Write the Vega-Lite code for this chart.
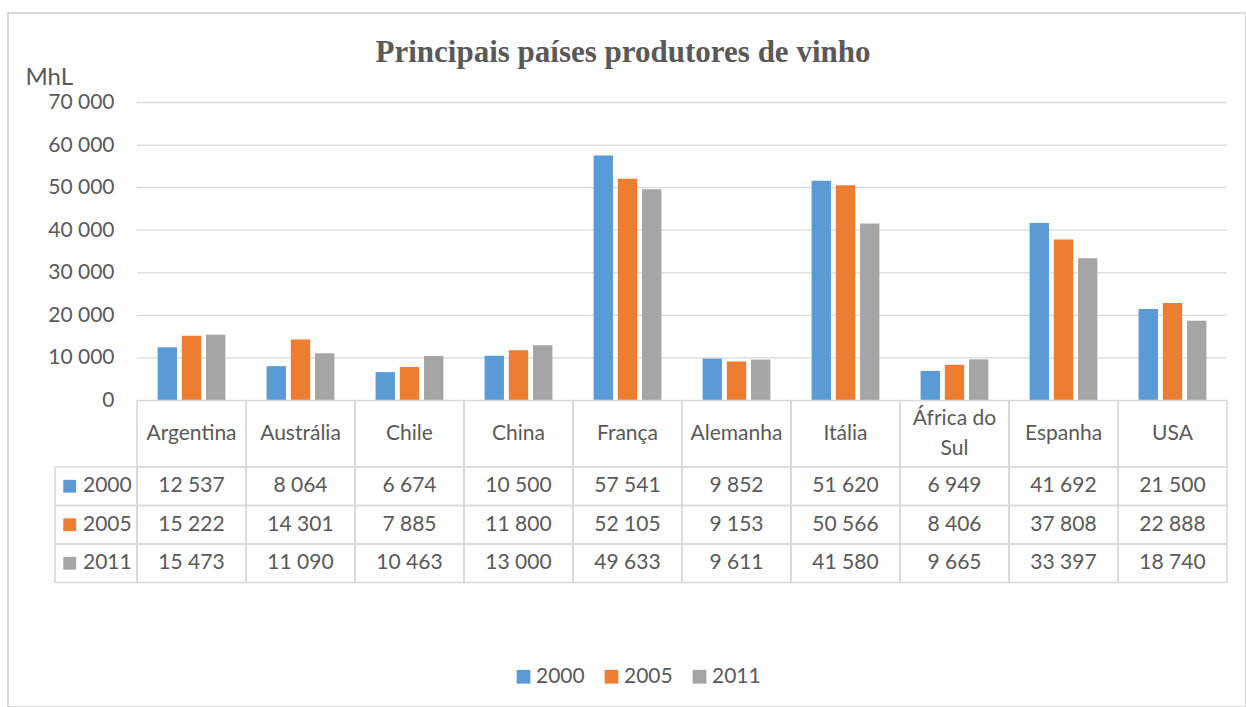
{
  "$schema": "https://vega.github.io/schema/vega-lite/v6.json",
  "autosize": {"type": "none"},
  "width": 1238,
  "height": 694,
  "padding": {"left": 8, "top": 13, "right": 0, "bottom": 0},
  "background": "white",
  "title": {
    "text": "Principais países produtores de vinho",
    "font": "Liberation Serif",
    "fontSize": 31,
    "fontWeight": "bold",
    "color": "#595959",
    "anchor": "middle",
    "baseline": "alphabetic",
    "offset": 0,
    "dx": -4,
    "dy": 80
  },
  "config": {
    "view": {"stroke": "#d9d9d9", "strokeWidth": 2},
    "locale": {"number": {"decimal": ",", "thousands": " ", "grouping": [3], "currency": ["", ""]}},
    "text": {"font": "Lato", "fontSize": 21, "color": "#595959"}
  },
  "datasets": {
    "wine": [
      {"country": "Argentina", "year": "2000", "value": 12537},
      {"country": "Argentina", "year": "2005", "value": 15222},
      {"country": "Argentina", "year": "2011", "value": 15473},
      {"country": "Austrália", "year": "2000", "value": 8064},
      {"country": "Austrália", "year": "2005", "value": 14301},
      {"country": "Austrália", "year": "2011", "value": 11090},
      {"country": "Chile", "year": "2000", "value": 6674},
      {"country": "Chile", "year": "2005", "value": 7885},
      {"country": "Chile", "year": "2011", "value": 10463},
      {"country": "China", "year": "2000", "value": 10500},
      {"country": "China", "year": "2005", "value": 11800},
      {"country": "China", "year": "2011", "value": 13000},
      {"country": "França", "year": "2000", "value": 57541},
      {"country": "França", "year": "2005", "value": 52105},
      {"country": "França", "year": "2011", "value": 49633},
      {"country": "Alemanha", "year": "2000", "value": 9852},
      {"country": "Alemanha", "year": "2005", "value": 9153},
      {"country": "Alemanha", "year": "2011", "value": 9611},
      {"country": "Itália", "year": "2000", "value": 51620},
      {"country": "Itália", "year": "2005", "value": 50566},
      {"country": "Itália", "year": "2011", "value": 41580},
      {"country": "África do Sul", "year": "2000", "value": 6949},
      {"country": "África do Sul", "year": "2005", "value": 8406},
      {"country": "África do Sul", "year": "2011", "value": 9665},
      {"country": "Espanha", "year": "2000", "value": 41692},
      {"country": "Espanha", "year": "2005", "value": 37808},
      {"country": "Espanha", "year": "2011", "value": 33397},
      {"country": "USA", "year": "2000", "value": 21500},
      {"country": "USA", "year": "2005", "value": 22888},
      {"country": "USA", "year": "2011", "value": 18740}
    ],
    "countries": [
      {"country": "Argentina", "label": "Argentina"},
      {"country": "Austrália", "label": "Austrália"},
      {"country": "Chile", "label": "Chile"},
      {"country": "China", "label": "China"},
      {"country": "França", "label": "França"},
      {"country": "Alemanha", "label": "Alemanha"},
      {"country": "Itália", "label": "Itália"},
      {"country": "África do Sul", "label": "África do\nSul"},
      {"country": "Espanha", "label": "Espanha"},
      {"country": "USA", "label": "USA"}
    ],
    "years": [
      {"year": "2000", "col": "h"},
      {"year": "2005", "col": "h"},
      {"year": "2011", "col": "h"}
    ],
    "ticks": [
      {"v": 10000}, {"v": 20000}, {"v": 30000}, {"v": 40000},
      {"v": 50000}, {"v": 60000}, {"v": 70000}
    ]
  },
  "resolve": {"scale": {"x": "independent", "y": "independent"}},
  "layer": [
    {
      "data": {"name": "ticks"},
      "mark": {"type": "rule", "color": "#d9d9d9", "strokeWidth": 1.3},
      "encoding": {
        "y": {"field": "v", "type": "quantitative", "scale": {"domain": [0, 70000], "range": [387.5, 89.5], "nice": false, "zero": false}, "axis": null},
        "x": {"datum": "Argentina", "type": "nominal", "bandPosition": 0,
              "scale": {"domain": ["Argentina", "Austrália", "Chile", "China", "França", "Alemanha", "Itália", "África do Sul", "Espanha", "USA"], "range": [129, 1219], "paddingInner": 0, "paddingOuter": 0}, "axis": null},
        "x2": {"datum": "USA", "bandPosition": 1}
      }
    },
    {
      "data": {"name": "wine"},
      "mark": {"type": "bar"},
      "encoding": {
        "x": {"field": "country", "type": "nominal",
              "scale": {"domain": ["Argentina", "Austrália", "Chile", "China", "França", "Alemanha", "Itália", "África do Sul", "Espanha", "USA"], "range": [129, 1219], "paddingInner": 0, "paddingOuter": 0}, "axis": null},
        "xOffset": {"field": "year", "type": "nominal", "scale": {"domain": ["2000", "2005", "2011"], "paddingInner": 0.2, "paddingOuter": 0.85}},
        "y": {"field": "value", "type": "quantitative",
              "scale": {"domain": [0, 70000], "range": [387.5, 89.5], "nice": false},
              "axis": {"orient": "left", "offset": -129, "domain": false, "ticks": false, "grid": false,
                       "values": [0, 10000, 20000, 30000, 40000, 50000, 60000, 70000],
                       "labelExpr": "format(datum.value, ',')",
                       "labelFont": "Lato", "labelFontSize": 21, "labelColor": "#595959", "labelPadding": 23,
                       "title": "MhL", "titleAngle": 0, "titleAlign": "left", "titleBaseline": "alphabetic",
                       "titleX": -112, "titleY": 71, "titleFont": "Lato", "titleFontSize": 24,
                       "titleFontWeight": "normal", "titleColor": "#595959"}},
        "color": {"field": "year", "type": "nominal",
                  "scale": {"domain": ["2000", "2005", "2011"], "range": ["#5B9BD5", "#ED7D31", "#A5A5A5"]},
                  "legend": {"orient": "none", "legendX": 505, "legendY": 653, "direction": "horizontal", "title": null,
                             "symbolType": "square", "symbolSize": 190, "symbolStrokeWidth": 0,
                             "labelFont": "Lato", "labelFontSize": 21, "labelColor": "#595959",
                             "labelOffset": 2, "columnPadding": 16}}
      }
    },
    {
      "data": {"name": "countries"},
      "mark": {"type": "rect", "fill": "transparent", "stroke": "#d9d9d9", "strokeWidth": 1.6},
      "encoding": {
        "x": {"field": "country", "type": "nominal",
              "scale": {"domain": ["Argentina", "Austrália", "Chile", "China", "França", "Alemanha", "Itália", "África do Sul", "Espanha", "USA"], "range": [129, 1219], "paddingInner": 0, "paddingOuter": 0}, "axis": null},
        "y": {"datum": "hdr", "type": "nominal", "scale": {"domain": ["hdr"], "range": [387.5, 454], "paddingInner": 0, "paddingOuter": 0}, "axis": null}
      }
    },
    {
      "data": {"name": "countries"},
      "transform": [{"filter": "datum.country != 'África do Sul'"}],
      "mark": {"type": "text", "baseline": "middle", "align": "center"},
      "encoding": {
        "x": {"field": "country", "type": "nominal",
              "scale": {"domain": ["Argentina", "Austrália", "Chile", "China", "França", "Alemanha", "Itália", "África do Sul", "Espanha", "USA"], "range": [129, 1219], "paddingInner": 0, "paddingOuter": 0}, "axis": null},
        "y": {"datum": "hdr", "type": "nominal", "scale": {"domain": ["hdr"], "range": [387.5, 454], "paddingInner": 0, "paddingOuter": 0}, "axis": null},
        "text": {"field": "label"}
      }
    },
    {
      "data": {"name": "countries"},
      "transform": [{"filter": "datum.country == 'África do Sul'"}],
      "mark": {"type": "text", "lineBreak": "\n", "lineHeight": 30, "baseline": "middle", "align": "center", "dy": -15},
      "encoding": {
        "x": {"field": "country", "type": "nominal",
              "scale": {"domain": ["Argentina", "Austrália", "Chile", "China", "França", "Alemanha", "Itália", "África do Sul", "Espanha", "USA"], "range": [129, 1219], "paddingInner": 0, "paddingOuter": 0}, "axis": null},
        "y": {"datum": "hdr", "type": "nominal", "scale": {"domain": ["hdr"], "range": [387.5, 454], "paddingInner": 0, "paddingOuter": 0}, "axis": null},
        "text": {"field": "label"}
      }
    },
    {
      "data": {"name": "wine"},
      "mark": {"type": "rect", "fill": "transparent", "stroke": "#d9d9d9", "strokeWidth": 1.6},
      "encoding": {
        "x": {"field": "country", "type": "nominal",
              "scale": {"domain": ["Argentina", "Austrália", "Chile", "China", "França", "Alemanha", "Itália", "África do Sul", "Espanha", "USA"], "range": [129, 1219], "paddingInner": 0, "paddingOuter": 0}, "axis": null},
        "y": {"field": "year", "type": "nominal", "scale": {"domain": ["2000", "2005", "2011"], "range": [454, 569.5], "paddingInner": 0, "paddingOuter": 0}, "axis": null}
      }
    },
    {
      "data": {"name": "wine"},
      "mark": {"type": "text", "baseline": "middle", "align": "center"},
      "encoding": {
        "x": {"field": "country", "type": "nominal",
              "scale": {"domain": ["Argentina", "Austrália", "Chile", "China", "França", "Alemanha", "Itália", "África do Sul", "Espanha", "USA"], "range": [129, 1219], "paddingInner": 0, "paddingOuter": 0}, "axis": null},
        "y": {"field": "year", "type": "nominal", "scale": {"domain": ["2000", "2005", "2011"], "range": [454, 569.5], "paddingInner": 0, "paddingOuter": 0}, "axis": null},
        "text": {"field": "value", "type": "quantitative", "format": ","}
      }
    },
    {
      "data": {"name": "years"},
      "mark": {"type": "rect", "fill": "transparent", "stroke": "#d9d9d9", "strokeWidth": 1.6},
      "encoding": {
        "x": {"field": "col", "type": "nominal", "scale": {"domain": ["h"], "range": [47, 129], "paddingInner": 0, "paddingOuter": 0}, "axis": null},
        "y": {"field": "year", "type": "nominal", "scale": {"domain": ["2000", "2005", "2011"], "range": [454, 569.5], "paddingInner": 0, "paddingOuter": 0}, "axis": null}
      }
    },
    {
      "data": {"name": "years"},
      "mark": {"type": "point", "shape": "square", "filled": true, "size": 165, "opacity": 1},
      "encoding": {
        "x": {"field": "col", "type": "nominal", "scale": {"domain": ["h"], "range": [47, 76.4], "paddingInner": 0, "paddingOuter": 0}, "axis": null},
        "y": {"field": "year", "type": "nominal", "scale": {"domain": ["2000", "2005", "2011"], "range": [454, 569.5], "paddingInner": 0, "paddingOuter": 0}, "axis": null},
        "color": {"field": "year", "type": "nominal", "legend": null}
      }
    },
    {
      "data": {"name": "years"},
      "mark": {"type": "text", "baseline": "middle", "align": "left", "dx": -13},
      "encoding": {
        "x": {"field": "col", "type": "nominal", "scale": {"domain": ["h"], "range": [47, 129], "paddingInner": 0, "paddingOuter": 0}, "axis": null},
        "y": {"field": "year", "type": "nominal", "scale": {"domain": ["2000", "2005", "2011"], "range": [454, 569.5], "paddingInner": 0, "paddingOuter": 0}, "axis": null},
        "text": {"field": "year"}
      }
    }
  ]
}
